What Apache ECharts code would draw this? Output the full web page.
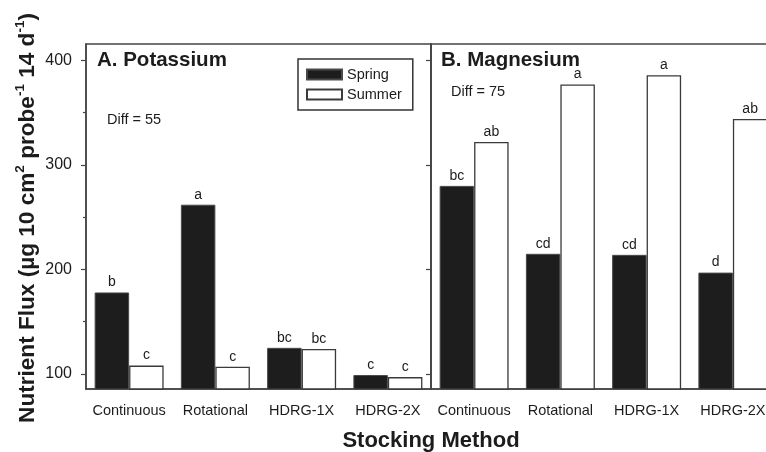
<!DOCTYPE html>
<html>
<head>
<meta charset="utf-8">
<script src="https://cdn.jsdelivr.net/npm/echarts@6/dist/echarts.min.js"></script>
<style>html,body{margin:0;padding:0;background:#fff;}#c{width:766px;height:452px;}</style>
</head>
<body>
<div id="c"></div>
<script>
const categories = ['Continuous', 'Rotational', 'HDRG-1X', 'HDRG-2X'];
const kSpring = [178, 262, 125, 99];
const kSummer = [108, 107, 124, 97];
const mgSpring = [280, 215, 214, 197];
const mgSummer = [322, 377, 386, 344];
const kSpringLetters = ['b', 'a', 'bc', 'c'];
const kSummerLetters = ['c', 'c', 'bc', 'c'];
const mgSpringLetters = ['bc', 'cd', 'cd', 'd'];
const mgSummerLetters = ['ab', 'a', 'a', 'ab'];
const yTicks = [100, 200, 300, 400];
const yMinorTicks = [150, 250, 350];
const yMin = 85.6, yMax = 415.8;

const FONT = 'Liberation Sans, Arial, sans-serif';
const INK = '#1c1c1c';
const AX = '#444';

const chart = echarts.init(document.getElementById('c'), null, {renderer: 'canvas'});

function xAxis(gridIndex) {
  return {
    type: 'category', gridIndex, data: categories,
    axisLine: {lineStyle: {color: AX, width: 1.5}},
    axisTick: {alignWithLabel: true, length: 6, lineStyle: {color: AX, width: 1.2}},
    axisLabel: {interval: 0, color: INK, fontSize: 14.5, fontFamily: FONT, margin: 14},
    splitLine: {show: false}
  };
}
function yAxis(gridIndex, opts) {
  return Object.assign({
    type: 'value', gridIndex, min: yMin, max: yMax, position: 'left',
    axisLine: {show: true, lineStyle: {color: AX, width: 1.5}},
    axisTick: {show: true, customValues: yTicks, length: 5, lineStyle: {color: AX, width: 1.2}},
    axisLabel: {show: false},
    splitLine: {show: false}
  }, opts);
}
function labelFn(letters) {
  return {
    show: true, position: 'top', distance: 3, color: INK, fontSize: 14, fontFamily: FONT,
    formatter: p => letters[p.dataIndex]
  };
}
const springStyle = {color: '#1d1d1d', borderColor: '#4a4a4a', borderWidth: 1};
const summerStyle = {color: '#ffffff', borderColor: '#3a3a3a', borderWidth: 1.3};

const option = {
  backgroundColor: '#fff',
  animation: false,
  grid: [
    {left: 86, top: 44, width: 345, height: 345, outerBoundsMode: 'none', show: true, borderColor: AX, borderWidth: 1.5, backgroundColor: 'transparent'},
    {left: 431, top: 44, width: 345, height: 345, outerBoundsMode: 'none', show: true, borderColor: AX, borderWidth: 1.5, backgroundColor: 'transparent'}
  ],
  xAxis: [xAxis(0), xAxis(1)],
  yAxis: [
    yAxis(0, {axisLabel: {show: true, customValues: yTicks, color: INK, fontSize: 16, fontFamily: FONT, margin: 14}}),
    yAxis(1, {}),
    yAxis(0, {axisLine: {show: false}, axisTick: {show: true, customValues: yMinorTicks, length: 3, lineStyle: {color: AX, width: 1.2}}})
  ],
  legend: {
    data: [{name: 'Spring', icon: 'rect'}, {name: 'Summer', icon: 'rect'}],
    orient: 'vertical', left: 298, top: 59,
    itemWidth: 35, itemHeight: 10, itemGap: 5,
    padding: [8, 11, 8, 8],
    borderColor: '#333', borderWidth: 1.5, backgroundColor: '#fff',
    textStyle: {color: INK, fontSize: 14.5, fontFamily: FONT, lineHeight: 14},
    selectedMode: false
  },
  series: [
    {name: 'Spring', type: 'bar', xAxisIndex: 0, yAxisIndex: 0, data: kSpring, barGap: '0%', barCategoryGap: '20%', itemStyle: springStyle, label: labelFn(kSpringLetters)},
    {name: 'Summer', type: 'bar', xAxisIndex: 0, yAxisIndex: 0, data: kSummer, barGap: '0%', barCategoryGap: '20%', itemStyle: summerStyle, label: labelFn(kSummerLetters)},
    {name: 'Spring', type: 'bar', xAxisIndex: 1, yAxisIndex: 1, data: mgSpring, barGap: '0%', barCategoryGap: '20%', itemStyle: springStyle, label: labelFn(mgSpringLetters)},
    {name: 'Summer', type: 'bar', xAxisIndex: 1, yAxisIndex: 1, data: mgSummer, barGap: '0%', barCategoryGap: '20%', itemStyle: summerStyle, label: labelFn(mgSummerLetters)}
  ],
  graphic: [
    {type: 'text', left: 97, top: 50, style: {text: 'A. Potassium', fill: INK, font: 'bold 20.5px ' + FONT}},
    {type: 'text', left: 441, top: 50, style: {text: 'B. Magnesium', fill: INK, font: 'bold 20.5px ' + FONT}},
    {type: 'text', left: 107, top: 112, style: {text: 'Diff = 55', fill: INK, font: '14.5px ' + FONT}},
    {type: 'text', left: 451, top: 84, style: {text: 'Diff = 75', fill: INK, font: '14.5px ' + FONT}},
    {type: 'text', x: 431, y: 441, style: {text: 'Stocking Method', fill: INK, font: 'bold 22px ' + FONT, align: 'center', verticalAlign: 'middle'}},
    {type: 'text', x: 26, y: 218, rotation: Math.PI / 2,
      style: {
        text: '{t|Nutrient Flux (µg 10 cm}{s|2}{t| probe}{s|-1}{t| 14 d}{s|-1}{t|)}',
        align: 'center', verticalAlign: 'middle',
        rich: {
          t: {fontSize: 22.6, fontWeight: 'bold', fontFamily: FONT, fill: INK, color: INK, lineHeight: 26, verticalAlign: 'bottom'},
          s: {fontSize: 13.5, fontWeight: 'bold', fontFamily: FONT, fill: INK, color: INK, lineHeight: 13, verticalAlign: 'top'}
        }
      }
    }
  ]
};
chart.setOption(option);
</script>
</body>
</html>
